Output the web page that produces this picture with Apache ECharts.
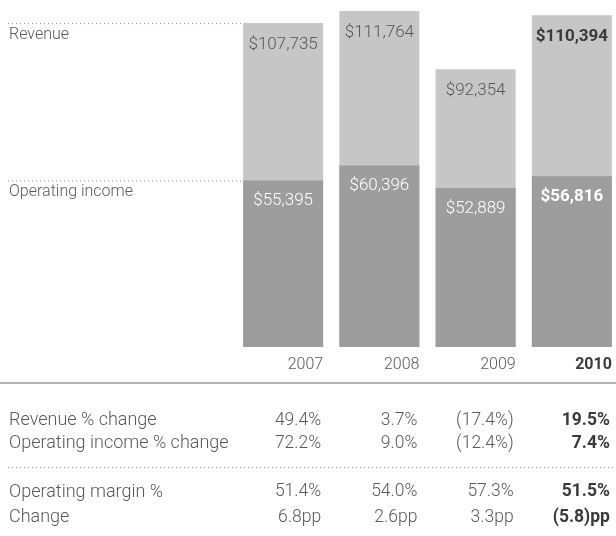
<!DOCTYPE html>
<html>
<head>
<meta charset="utf-8">
<script src="https://cdn.jsdelivr.net/npm/echarts@6/dist/echarts.min.js"></script>
<style>
html,body{margin:0;padding:0;background:#fff;}
#c{width:616px;height:536px;}
</style>
</head>
<body>
<div id="c"></div>
<script>
const years = ['2007', '2008', '2009', '2010'];
const revenue = [107735, 111764, 92354, 110394];
const operatingIncome = [55395, 60396, 52889, 56816];
const revenueLabels = ['$107,735', '$111,764', '$92,354', '$110,394'];
const opLabels = ['$55,395', '$60,396', '$52,889', '$56,816'];
const rowNames = ['Revenue % change', 'Operating income % change', 'Operating margin %', 'Change'];
const revenueChange = ['49.4%', '3.7%', '(17.4%)', '19.5%'];
const opIncomeChange = ['72.2%', '9.0%', '(12.4%)', '7.4%'];
const opMargin = ['51.4%', '54.0%', '57.3%', '51.5%'];
const marginChange = ['6.8pp', '2.6pp', '3.3pp', '(5.8)pp'];
const tableRows = [revenueChange, opIncomeChange, opMargin, marginChange];

const FONT = "Roboto, 'Liberation Sans', sans-serif";
const TXT = '#585858';
const BOLD = '#3a3a3a';
const LIGHT = 300;
const last = years.length - 1;

const chart = echarts.init(document.getElementById('c'), null, {renderer: 'canvas'});

const option = {
  backgroundColor: '#fff',
  animation: false,
  textStyle: {fontFamily: FONT},
  grid: {left: 235, width: 385, top: 10, height: 337, containLabel: false, outerBoundsMode: 'none'},
  xAxis: {
    type: 'category',
    data: years,
    axisLine: {show: false},
    axisTick: {show: false},
    axisLabel: {
      margin: 10,
      fontFamily: FONT,
      formatter: v => v === years[last] ? '{b|' + v + '}' : '{a|' + v + '}',
      rich: {
        a: {width: 80, align: 'right', fontSize: 16, color: TXT, fontWeight: LIGHT, fontFamily: FONT},
        b: {width: 80, align: 'right', fontSize: 16, color: BOLD, fontWeight: 'bold', fontFamily: FONT}
      }
    }
  },
  yAxis: {type: 'value', min: 0, max: 112100, show: false},
  series: [
    {
      name: 'Revenue',
      type: 'bar',
      barWidth: 80,
      barGap: '-100%',
      itemStyle: {color: '#c6c6c6'},
      data: revenue.map((v, i) => ({
        value: v,
        label: {
          show: true,
          position: 'insideTop',
          distance: 13,
          formatter: revenueLabels[i],
          fontSize: 17,
          fontFamily: FONT,
          color: i === last ? BOLD : TXT,
          fontWeight: i === last ? 'bold' : LIGHT
        }
      }))
    },
    {
      name: 'Operating income',
      type: 'bar',
      barWidth: 80,
      barGap: '-100%',
      itemStyle: {color: '#9d9d9d'},
      data: operatingIncome.map((v, i) => ({
        value: v,
        label: {
          show: true,
          position: 'insideTop',
          distance: 12,
          formatter: opLabels[i],
          fontSize: 17,
          fontFamily: FONT,
          color: '#ffffff',
          fontWeight: i === last ? 'bold' : LIGHT
        }
      }))
    }
  ]
};
chart.setOption(option);

const g = [];
const barHalf = 40;
const revY = chart.convertToPixel({gridIndex: 0}, [0, revenue[0]])[1];
const opY = chart.convertToPixel({gridIndex: 0}, [0, operatingIncome[0]])[1];
const firstLeft = chart.convertToPixel({gridIndex: 0}, [0, 0])[0] - barHalf;
const colRight = years.map((y, i) => chart.convertToPixel({gridIndex: 0}, [i, 0])[0] + barHalf - 2);

function dotted(y, x1, x2) {
  g.push({type: 'line', shape: {x1: x1, y1: y, x2: x2, y2: y},
    style: {stroke: '#8a8a8a', lineWidth: 1, lineDash: [1, 3]}, silent: true});
}
dotted(revY + 0.5, 8, firstLeft - 2);
dotted(opY + 0.5, 8, firstLeft - 2);
g.push({type: 'text', x: 9, y: revY + 12, style: {text: 'Revenue', fontSize: 16, fontWeight: LIGHT, fontFamily: FONT, fill: TXT, verticalAlign: 'middle', textVerticalAlign: 'middle'}});
g.push({type: 'text', x: 9, y: opY + 12, style: {text: 'Operating income', fontSize: 16, fontWeight: LIGHT, fontFamily: FONT, fill: TXT, verticalAlign: 'middle', textVerticalAlign: 'middle'}});

g.push({type: 'line', shape: {x1: 0, y1: 383, x2: 616, y2: 383}, style: {stroke: '#9a9a9a', lineWidth: 1.5}});
dotted(467.5, 8, 616);

const rowY = [420.5, 443.5, 492, 517.5];
rowNames.forEach((name, r) => {
  g.push({type: 'text', x: 9, y: rowY[r],
    style: {text: name, fontSize: 18, fontWeight: LIGHT, fontFamily: FONT, fill: TXT, textVerticalAlign: 'middle', verticalAlign: 'middle'}});
  tableRows[r].forEach((val, i) => {
    g.push({type: 'text', x: colRight[i], y: rowY[r],
      style: {text: val, fontSize: 17.5, fontFamily: FONT,
        fill: i === last ? BOLD : TXT, fontWeight: i === last ? 'bold' : LIGHT,
        align: 'right', textAlign: 'right', verticalAlign: 'middle', textVerticalAlign: 'middle'}});
  });
});
chart.setOption({graphic: {elements: g}});
</script>
</body>
</html>
